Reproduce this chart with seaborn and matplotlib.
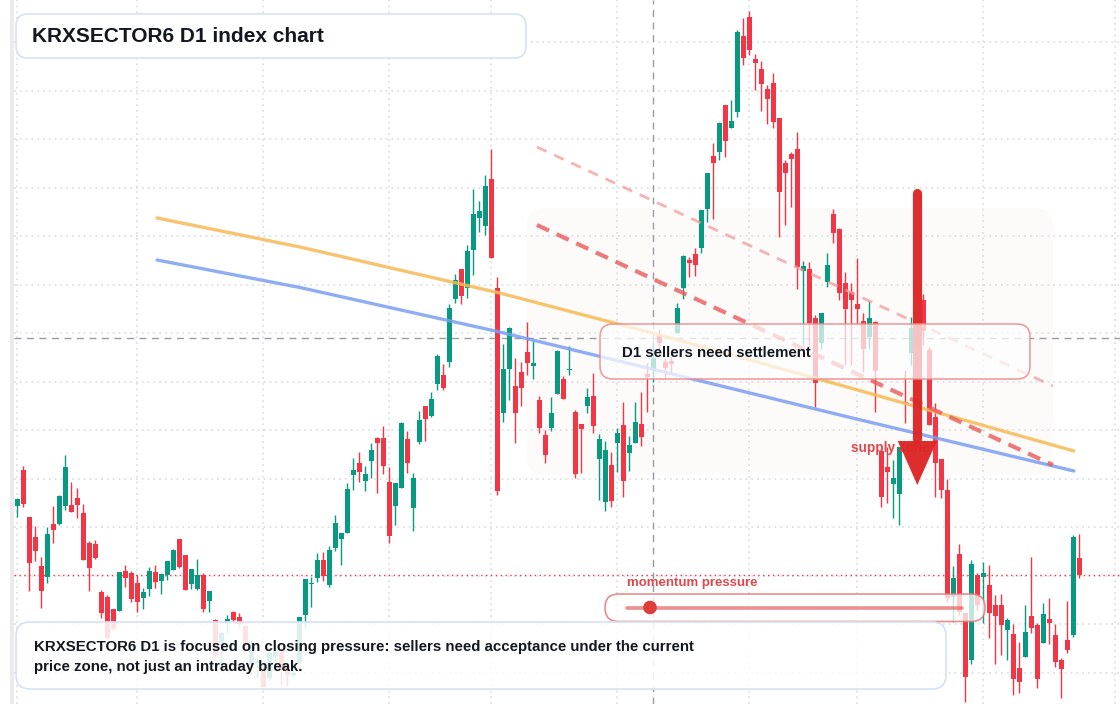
import numpy as np
import pandas as pd
import matplotlib
matplotlib.use("Agg")
import matplotlib.pyplot as plt
import seaborn as sns
from matplotlib.patches import FancyBboxPatch, Circle, Polygon
from matplotlib.transforms import IdentityTransform
from matplotlib.colors import to_rgba

# ---------------- data ----------------
opens = [494.3, 530, 482.7, 463, 434, 422.7, 476, 476, 494.3, 495,
         502, 487, 457, 456, 408, 403.3, 391, 389.3, 429, 426.7,
         417.3, 402.3, 411.3, 428, 419.3, 425, 430, 461, 445, 416.3,
         411, 425.3, 399, 380, 356.7, 378.3, 388, 383, 374, 335,
         336.7, 330, 321.7, 343, 348.3, 335, 325, 336.7, 385, 416.5,
         422.3, 440, 415, 452.3, 461.3, 467.3, 525.3, 537, 519.3, 539.3,
         561.7, 562, 518, 494.3, 512.3, 561, 492.3, 558.3, 594, 584,
         615.7, 625, 638.3, 701.3, 731, 711.7, 750, 782.3, 774.3, 821,
         711.7, 586.7, 630.7, 614, 628, 648, 634.3, 600, 565, 572.3,
         606.3, 620.7, 630.3, 588, 576, 594, 604, 541.3, 498.3, 535,
         557.3, 575, 547.3, 557.3, 576, 626, 630, 665, 638.3, 639,
         667.3, 711.7, 740, 746, 751.7, 791, 844, 848.3, 895, 872.3,
         888.3, 964, 983.3, 941, 931, 911, 916.7, 882.3, 836.7, 846,
         851, 729.3, 730.7, 681.7, 656.7, 718.3, 786, 771, 716.7, 708.3,
         696, 679, 663.3, 677.7, 549, 533.3, 515.7, 505.7, 598.5, 646.7,
         665, 700, 650, 582.7, 540.7, 510, 403.3, 446, 386.7, 340,
         425, 423.3, 415, 395, 395, 370, 366, 331.7, 342.7, 384,
         375, 356.7, 380.7, 365, 340, 360, 365, 441.7]
highs = [502, 534, 482.7, 474, 443.3, 472.7, 494, 505, 545, 517.7,
         512, 496, 458.7, 460, 410, 405, 391, 428, 435, 429,
         425, 412.3, 433.3, 435.3, 426.7, 439, 451.3, 461, 445, 431,
         440.7, 427.3, 409, 381, 368, 385, 389.3, 387.3, 375, 360,
         342, 338, 350, 360, 350, 336.7, 340, 383.3, 421, 423.3,
         446.7, 447.7, 454, 485, 467, 517, 541.7, 548, 534, 557.3,
         563, 574, 532.7, 516.7, 578, 569, 527.3, 589, 594, 608.3,
         646, 636, 696, 725.7, 731, 754.7, 811, 799, 825, 851,
         723.3, 655.7, 673.3, 641.7, 637.7, 678, 659.3, 604, 570, 603.3,
         650, 624, 654, 590, 576, 612, 627.3, 566, 559, 548.3,
         571.7, 597.7, 564, 598.3, 608.3, 636.7, 658.3, 670.7, 643.3, 643,
         697.3, 745, 742.7, 751.7, 790, 827, 856.7, 878.3, 895, 900,
         970, 981.7, 989.3, 946, 939, 915, 927.3, 882.3, 840, 848.3,
         867.7, 739, 738.3, 685, 686.7, 746.7, 790.7, 771.7, 728.3, 717.3,
         741.7, 686.7, 699, 679, 549, 553.3, 540, 552.7, 630, 683.3,
         680, 706, 653.3, 596.7, 540.7, 520.7, 434, 456, 386.7, 440,
         427, 438.3, 435, 405, 406, 381.7, 376, 358.3, 395, 442.7,
         376.7, 396.7, 401.7, 376, 341.7, 399.3, 465, 466]
lows = [483, 493.3, 409.3, 439.3, 392.3, 416.7, 457.3, 475, 490, 487.7,
        482.3, 440.3, 409.3, 441.3, 382, 360, 370, 389.3, 413.3, 397.7,
        388, 391, 404.3, 411.7, 406, 420, 430, 431.7, 410.3, 411.3,
        410, 387.7, 388.3, 343, 337, 367.3, 378.3, 372.7, 353, 333,
        323.3, 313, 320, 330, 315, 314.3, 323, 336.7, 372, 393.3,
        418.3, 419.3, 413.3, 449, 435.3, 467.3, 510, 517.7, 509.3, 521.7,
        507.3, 526, 456.7, 475, 512.3, 526.7, 469.3, 555.7, 559.3, 582.7,
        610, 610, 633.3, 697.3, 696, 702.3, 725, 768.3, 765, 742.3,
        505, 578.3, 600, 556.7, 594.3, 625, 621, 567.3, 537.3, 569.3,
        606.3, 601, 625, 522.3, 526.7, 587.3, 566.7, 500, 489.3, 493.3,
        528.3, 503.3, 529.3, 557.3, 554.3, 588.3, 618.3, 650, 621.7, 628,
        667.3, 700.7, 722.7, 724, 746.7, 778.3, 781.3, 840, 843.3, 872.3,
        883.3, 934.7, 945, 910, 889, 876, 872.3, 762.7, 775, 793,
        710.7, 655, 650, 592.7, 650.7, 712.7, 757.3, 700, 635, 635,
        675.7, 628.3, 650.7, 588.3, 492.7, 496.7, 481.7, 475, 576.7, 635,
        635, 655, 575, 503.3, 501.7, 398.3, 378.3, 385, 298.3, 336,
        390, 376.7, 361.7, 336, 345, 340, 305, 306.7, 342.7, 366.7,
        311.7, 356.7, 356, 333.3, 301.7, 347.3, 363.3, 422]
closes = [501, 496, 437.3, 449.3, 409.3, 466, 470.3, 504, 533, 488.3,
          495.3, 440.3, 432.3, 442, 387.3, 362, 371, 428, 422.3, 401,
          397.7, 408, 428.7, 418.3, 425.7, 439, 450, 433.3, 410.3, 431,
          425.3, 391, 409, 345, 367.3, 381, 380, 376, 355, 352,
          339.3, 313.3, 346.7, 348, 330, 325, 327, 383.3, 421, 417.5,
          440, 424, 450, 477, 467, 511, 530, 528.3, 526, 550,
          557.3, 534.3, 464.3, 516.7, 576.7, 537.3, 521.7, 580, 581.3, 601,
          644, 611.7, 691.7, 720, 704.3, 749, 786, 789, 814, 742.3,
          509.3, 631, 671.7, 587.3, 612.3, 636.7, 637.3, 572.3, 545, 587.3,
          649.3, 601, 631.3, 525.7, 570.7, 603, 574.3, 560.7, 550, 499.3,
          566.7, 519.3, 555, 577.7, 562.7, 623.3, 641.7, 656.7, 631.7, 636,
          691.7, 744, 737.3, 735, 790, 827, 837, 877.3, 859.3, 879.3,
          968.3, 942.3, 950, 937.3, 916, 901.3, 878, 808.3, 826.7, 840.7,
          733.3, 734, 676.7, 616.7, 686.7, 735, 767.3, 706.7, 690.7, 700,
          690.7, 651, 681.7, 629, 502.7, 528.3, 521.7, 552.7, 597.5, 671.7,
          650, 669.3, 575, 537.3, 510, 401.7, 421.7, 388.3, 322.7, 436,
          395, 426.7, 387.3, 384, 375, 380, 320.7, 318.3, 368.3, 371.7,
          320.7, 386, 377.3, 338.3, 330.7, 350, 462.7, 425]

# curved average lines (bar index, price)
avg_x = [23.3, 47.1, 80.4, 107.1, 137.1, 176.1]
avg_orange = [782, 753, 707, 665, 615, 549]
avg_blue = [740, 712.5, 668, 629, 585, 529]

# dashed descending resistance lines
res_x = [86.6, 172.6]
res_outer = [853, 614]
res_inner = [775, 535]

# supply zone shading (bar index / price)
zone_x = [84.9, 172.6]
zone_price = [525, 792]

# arrow
arrow_x = 150
arrow_top = 807
arrow_base = 559
arrow_tip = 515

# crosshair and grid
cross_idx = 106
cross_price = 662
vgrid_idx = [0, 20, 41, 62, 79, 100, 122, 140, 161, 183]
hgrid_price = [958, 909.5, 861, 812.5, 764, 715.5, 667, 618.5, 570, 521.5,
               473, 424.5, 376, 327.5]

title = "KRXSECTOR6 D1 index chart"
note_lines = ["KRXSECTOR6 D1 is focused on closing pressure: sellers need acceptance under the current",
              "price zone, not just an intraday break."]
box_label = "D1 sellers need settlement"
gauge_label = "momentum pressure"
zone_label = "supply zone"

# ---------------- style ----------------
sns.set_theme(style="white")
plt.rcParams['font.family'] = ['Liberation Sans', 'DejaVu Sans']

W, H = 1120, 704
fig = plt.figure(figsize=(W / 100, H / 100), dpi=100)
fig.patch.set_facecolor("white")
ax = fig.add_axes([0, 0, 1, 1])
ax.set_facecolor("white")
ax.set_xlim(-2.883, 183.78)
ax.set_ylim(296, 1000)
ax.axis("off")

GREEN = "#089981"
RED = "#f23645"
LEFT = 14 / W  # horizontal lines start right of the left edge bar

df = pd.DataFrame({"open": opens, "high": highs, "low": lows, "close": closes})
df["idx"] = np.arange(len(df))
up = df["close"] >= df["open"]
colors = np.where(up, GREEN, RED)

# grid
for gx in vgrid_idx:
    ax.axvline(gx, color="#d8dbe0", lw=1.1, ls=(0, (1.2, 2.6)), zorder=1)
for gy in hgrid_price:
    ax.axhline(gy, xmin=LEFT, color="#d8dbe0", lw=1.1, ls=(0, (1.2, 2.6)), zorder=1)

# shaded supply zone (rounded, in display pixels)
(zx0, zy0) = ax.transData.transform((zone_x[0], zone_price[0]))
(zx1, zy1) = ax.transData.transform((zone_x[1], zone_price[1]))
zone = FancyBboxPatch((zx0, zy0), zx1 - zx0, zy1 - zy0,
                      boxstyle="round,pad=0,rounding_size=18",
                      transform=IdentityTransform(),
                      facecolor=to_rgba("#f3d6c4", 0.09), edgecolor="none", zorder=0.5)
ax.add_patch(zone)

# crosshair + last price line
ax.axvline(cross_idx, color="#9a9ca3", lw=1, ls=(0, (5, 4)), zorder=1.5)
ax.axhline(cross_price, xmin=LEFT, color="#9a9ca3", lw=1, ls=(0, (5, 4)), zorder=1.5)
ax.axhline(closes[-1], xmin=LEFT, color=RED, lw=1, ls=(0, (1, 2.5)), zorder=1.6)

# candles
body_bottom = np.minimum(df["open"], df["close"])
body_h = np.maximum(np.abs(df["close"] - df["open"]), 0.9)
ax.vlines(df["idx"], df["low"], df["high"], colors=colors, lw=1.0, zorder=3)
ax.bar(df["idx"], body_h, bottom=body_bottom, width=0.8, color=colors,
       edgecolor="none", zorder=3.1)

# average lines via seaborn
sns.lineplot(x=avg_x, y=avg_orange, ax=ax, color="#f7b955", lw=2.4, alpha=0.85,
             zorder=4, legend=False, sort=False)
sns.lineplot(x=avg_x, y=avg_blue, ax=ax, color="#7a9ff2", lw=2.4, alpha=0.85,
             zorder=4, legend=False, sort=False)

# dashed resistance lines
ax.plot(res_x, res_outer, color="#f29a9a", lw=2.0, alpha=0.75,
        ls=(0, (3.8, 3.0)), zorder=4.1)
ax.plot(res_x, res_inner, color="#e85a5a", lw=3.0, alpha=0.8,
        ls=(0, (3.2, 2.0)), zorder=4.1)

# zone label
ax.text(138.9, 552, zone_label, color="#e0484c", fontsize=9.8, fontweight="bold",
        ha="left", va="center", zorder=5)

# arrow
ax.plot([arrow_x, arrow_x], [arrow_top, arrow_base + 2], color="#dc2626", lw=6.6,
        solid_capstyle="round", alpha=0.97, zorder=6)
head = Polygon([[arrow_x - 3.25, arrow_base], [arrow_x + 3.25, arrow_base],
                [arrow_x, arrow_tip]], closed=True, facecolor="#dc2626",
               edgecolor="none", alpha=0.97, zorder=6)
ax.add_patch(head)

# ---------------- annotation boxes (figure pixels, top-left origin) ----------------
def rbox(x0, y0, x1, y1, r, fc, ec, lw, z):
    p = FancyBboxPatch((x0, H - y1), x1 - x0, y1 - y0,
                       boxstyle=f"round,pad=0,rounding_size={r}",
                       transform=IdentityTransform(), facecolor=fc,
                       edgecolor=ec, linewidth=lw, zorder=z)
    fig.add_artist(p)

def ftext(x, y, s, **kw):
    fig.text(x / W, 1 - y / H, s, **kw)

# left edge bar
fig.add_artist(FancyBboxPatch((10, 0), 4, H, boxstyle="square,pad=0",
                              transform=IdentityTransform(), facecolor="#ebebeb",
                              edgecolor="none", zorder=2))

# title box
rbox(16, 14, 526, 58, 12, "white", "#d4e2f6", 1.2, 10)
ftext(32, 36.5, title, fontsize=15, fontweight="bold", color="#131722",
      ha="left", va="center", zorder=11)

# middle box
rbox(600, 324, 1030, 379, 13, to_rgba("white", 0.72), to_rgba("#ec8d8d", 0.85), 1.2, 10)
ftext(622, 353.5, box_label, fontsize=10.8, fontweight="bold", color="#131722",
      ha="left", va="center", zorder=11)

# momentum gauge
ftext(627, 583, gauge_label, fontsize=9.5, fontweight="bold", color="#e0474c",
      ha="left", va="center", zorder=11)
rbox(605, 594, 985, 621.5, 13.7, to_rgba("white", 0.75), to_rgba("#e87878", 0.85), 1.2, 10)
fig.add_artist(plt.Line2D([627, 962], [H - 607.5, H - 607.5], transform=IdentityTransform(),
                          color="#e55353", alpha=0.65, lw=2.6, zorder=11))
fig.add_artist(Circle((650, H - 607.5), 6.8, transform=IdentityTransform(),
                      facecolor="#e03c3c", edgecolor="none", zorder=12))

# bottom note box
rbox(16, 622, 946, 689, 14, to_rgba("white", 0.86), "#d4e2f6", 1.2, 10)
ftext(34, 647.5, note_lines[0], fontsize=10.8, fontweight="bold", color="#131722",
      ha="left", va="center", zorder=11)
ftext(34, 667.5, note_lines[1], fontsize=10.8, fontweight="bold", color="#131722",
      ha="left", va="center", zorder=11)

fig.savefig("out.png", dpi=100, facecolor="white")
